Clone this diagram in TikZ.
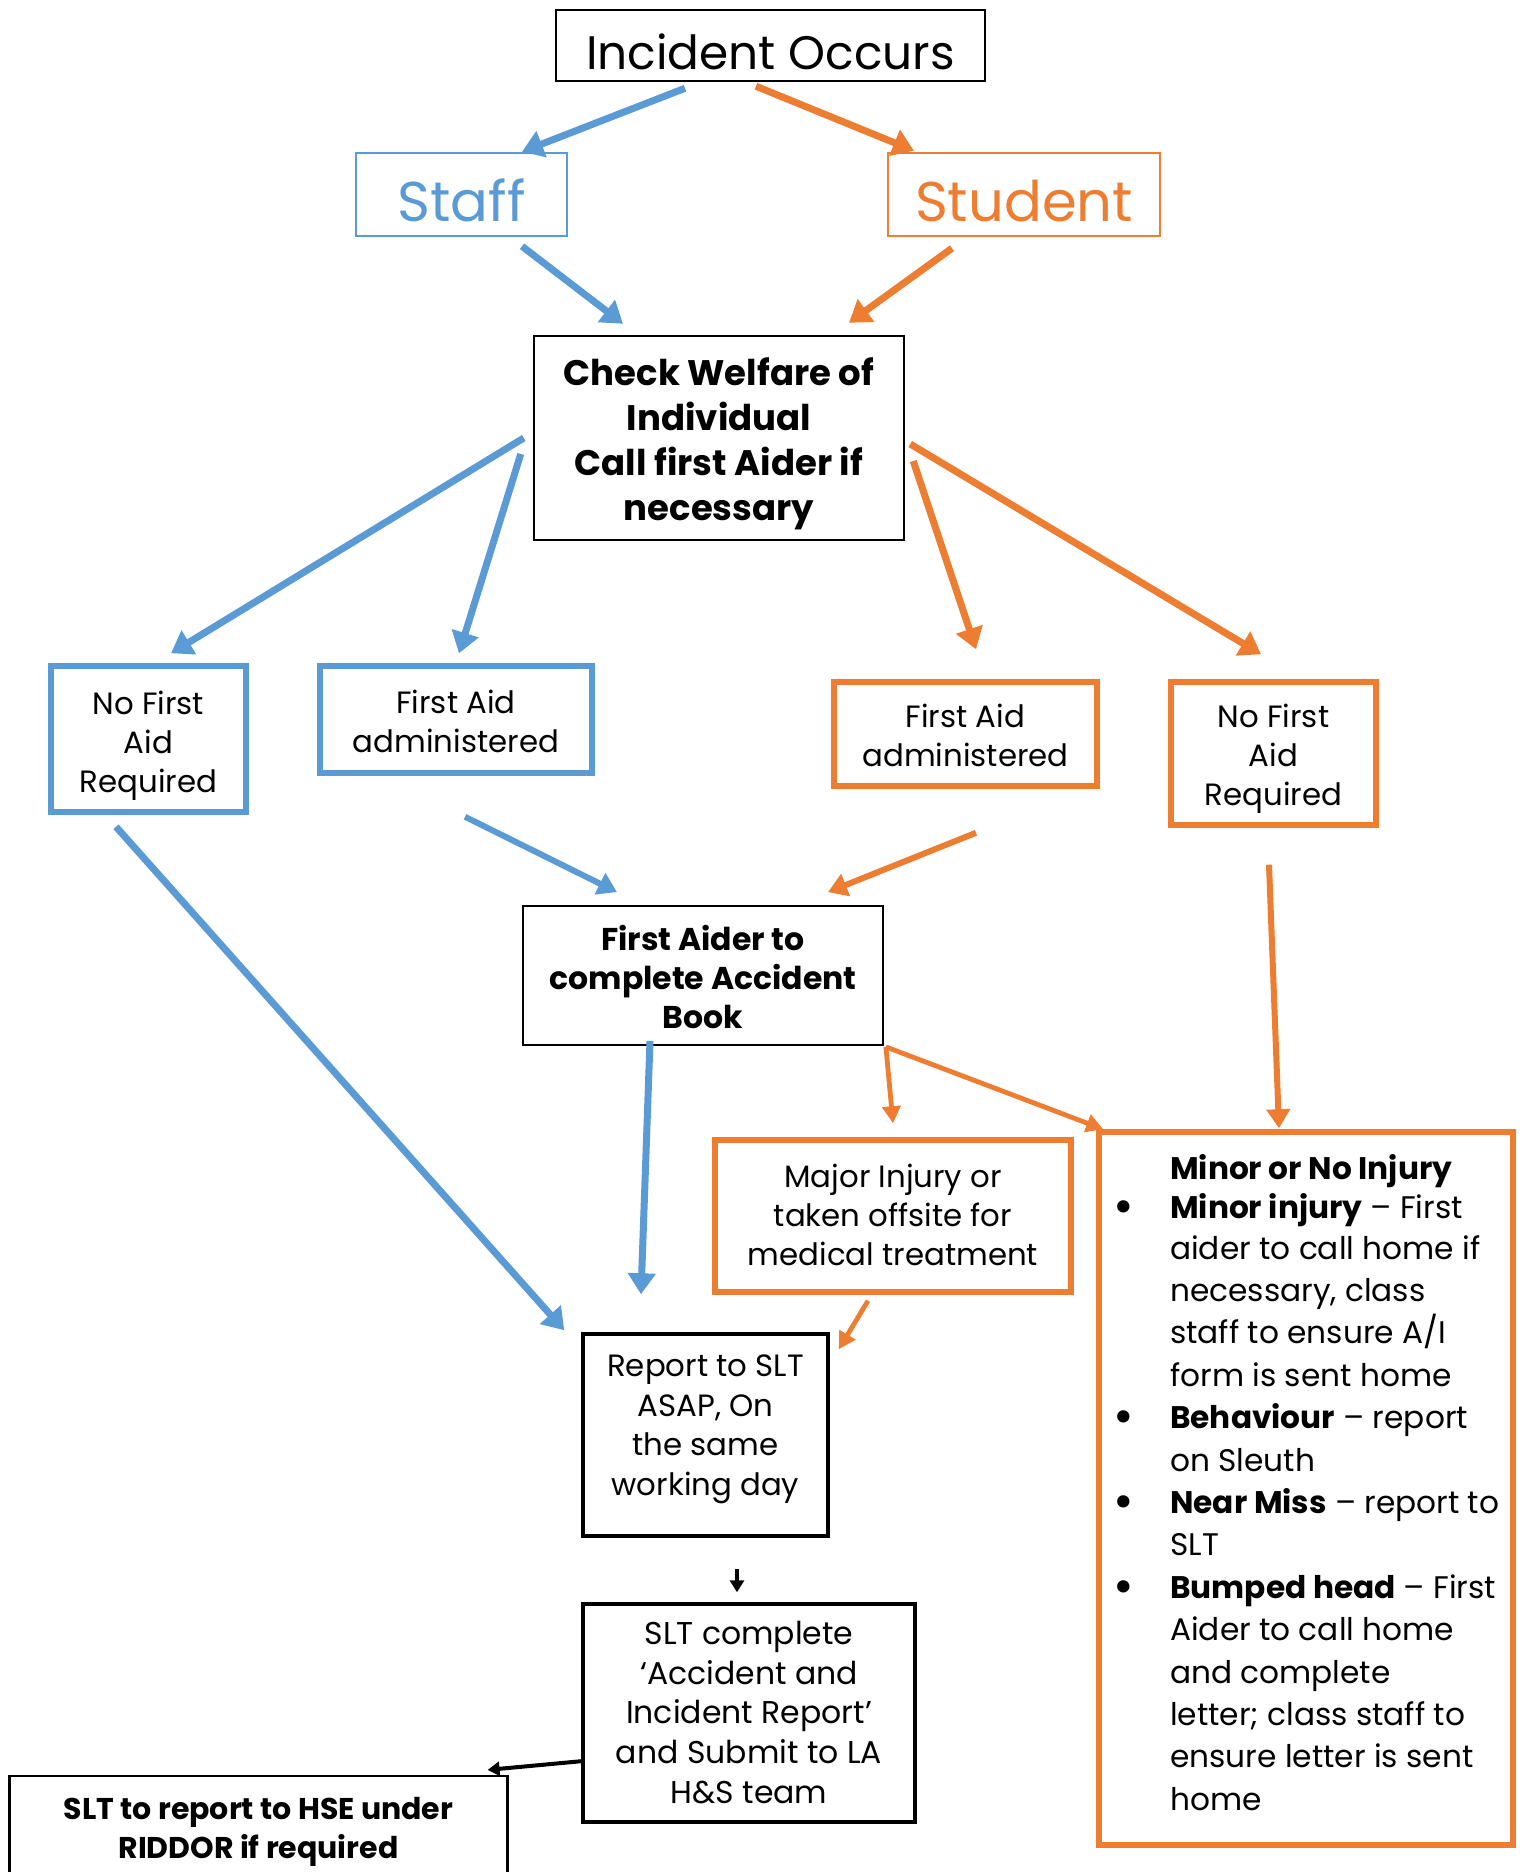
\documentclass[tikz,border=0pt]{standalone}
\usepackage{fontspec}
\setmainfont{Poppins}
\usetikzlibrary{arrows.meta,calc}
\definecolor{cblue}{HTML}{5B9BD5}
\definecolor{corange}{HTML}{ED7D31}
\newcommand\bul{\llap{\raisebox{-5pt}{\scalebox{1.6}{\textbullet}}\hspace{36pt}}}
\newcommand\tx[2]{\raisebox{#1}[\height][\depth]{\begin{tabular}{@{}c@{}}#2\end{tabular}}}
\begin{document}
\begin{tikzpicture}[x=1pt,y=-1pt,
  box/.style={draw, rectangle, inner sep=0pt},
  regtxt/.style={font={\fontsize{30.8}{39}\selectfont}},
  boldtxt/.style={font={\fontsize{30.8}{39}\selectfont\bfseries}},
  bthick/.style={line width=5.5pt, draw=cblue},
  othick/.style={line width=5.5pt, draw=corange},
  barr/.style={draw=cblue, line width=7pt, -{Triangle[length=21pt,width=27pt]}},
  oarr/.style={draw=corange, line width=7pt, -{Triangle[length=21pt,width=27pt]}},
  barrm/.style={draw=cblue, line width=6pt, -{Triangle[length=19pt,width=23pt]}},
  oarrm/.style={draw=corange, line width=6pt, -{Triangle[length=19pt,width=23pt]}},
  oarrs/.style={draw=corange, line width=4.8pt, -{Triangle[length=17pt,width=18pt]}},
  karr/.style={draw=black, line width=4pt, -{Triangle[length=12pt,width=14pt]}}
]
\useasboundingbox[fill=white] (0,0) rectangle (1525,1872);

% nodes
\node[box, line width=2.5pt, minimum width=429pt, minimum height=71pt,
  font={\fontsize{47}{50}\selectfont}] (inc) at (770.5,45.5) {\tx{-14pt}{Incident Occurs}};
\node[box, line width=2.5pt, draw=cblue, text=cblue, minimum width=211pt, minimum height=83pt,
  font={\fontsize{56}{60}\selectfont}] (staff) at (461.5,194.5) {\tx{-15pt}{Staff}};
\node[box, line width=2.5pt, draw=corange, text=corange, minimum width=272pt, minimum height=83pt,
  font={\fontsize{56}{60}\selectfont}] (student) at (1024,194.5) {\tx{-15pt}{Student}};
\node[box, line width=2.5pt, minimum width=370pt, minimum height=204pt,
  font={\fontsize{35.5}{45}\selectfont\bfseries}] (check) at (719,438)
  {\tx{-5.5pt}{Check Welfare of\\Individual\\Call first Aider if\\necessary}};
\node[box, bthick, regtxt, minimum width=195pt, minimum height=146pt] (bnofa) at (148.5,739)
  {\tx{-6.5pt}{No First\\Aid\\Required}};
\node[box, bthick, regtxt, minimum width=272pt, minimum height=107pt] (bfa) at (456,719.5)
  {\tx{-6pt}{First Aid\\administered}};
\node[box, othick, regtxt, minimum width=263pt, minimum height=104pt] (ofa) at (965.5,734)
  {\tx{-5pt}{First Aid\\administered}};
\node[box, othick, regtxt, minimum width=205pt, minimum height=143pt] (onofa) at (1273.5,753.5)
  {\tx{-5pt}{No First\\Aid\\Required}};
\node[box, line width=1.8pt, font={\fontsize{31.5}{39}\selectfont\bfseries}, minimum width=360pt, minimum height=139pt] (fab) at (703,975.5)
  {\tx{-6.5pt}{First Aider to\\complete Accident\\Book}};
\node[box, othick, regtxt, minimum width=356pt, minimum height=152pt] (major) at (893,1216)
  {\tx{-2.5pt}{Major Injury or\\taken offsite for\\medical treatment}};
\node[box, othick, minimum width=414pt, minimum height=713pt] (minor) at (1306,1488.5) {};
\node[anchor=north west, inner sep=0pt, align=left, font={\fontsize{31.2}{42.4}\selectfont}] (minortext) at (1170,1154)
  {\textbf{Minor or No Injury}\\[-3pt]
  \bul\textbf{Minor injury} – First\\[-2pt]
  aider to call home if\\
  necessary, class\\
  staff to ensure A/I\\
  form is sent home\\
  \bul\textbf{Behaviour} – report\\
  on Sleuth\\
  \bul\textbf{Near Miss} – report to\\
  SLT\\
  \bul\textbf{Bumped head} – First\\
  Aider to call home\\
  and complete\\
  letter; class staff to\\
  ensure letter is sent\\
  home};
\node[box, line width=3.5pt, font={\fontsize{30.8}{39.5}\selectfont}, minimum width=245pt, minimum height=202pt] (report) at (705.5,1435)
  {\tx{7pt}{Report to SLT\\ASAP, On\\the same\\working day}};
\node[box, line width=3.5pt, font={\fontsize{31.5}{39.6}\selectfont}, minimum width=332pt, minimum height=218pt] (sltc) at (749,1713)
  {\tx{-3pt}{SLT complete\\‘Accident and\\Incident Report’\\and Submit to LA\\H\&S team}};
\node[box, line width=2.2pt, font={\fontsize{30}{39}\selectfont\bfseries}, minimum width=498pt, minimum height=104pt] (hse) at (258.5,1828)
  {\tx{-3pt}{SLT to report to HSE under\\RIDDOR if required}};

% connectors
\draw[barr] ($(inc.south)+(-85.5,6)$) -- ($(staff.north)+(60.5,0)$);
\draw[oarr] ($(inc.south)+(-14.5,4)$) -- ($(student.north)+(-110,-1)$);
\draw[barr] ($(staff.south)+(60.5,9)$) -- ($(check.north)+(-96,-11)$);
\draw[oarr] ($(student.south)+(-72,11)$) -- ($(check.north)+(130,-12)$);
\draw[barr] ($(check.west)+(-9,0)$) -- ($(bnofa.north)+(22.5,-10)$);
\draw[barr] ($(check.west)+(-12,16)$) -- ($(bfa.north)+(3,-10)$);
\draw[oarr] ($(check.east)+(8,23)$) -- ($(ofa.north)+(10.5,-30)$);
\draw[oarr] ($(check.east)+(5,6)$) -- ($(onofa.north)+(-12.5,-25)$);
\draw[barrm] ($(bfa.south)+(9,41)$) -- ($(fab.north)+(-86,-13)$);
\draw[oarrm] ($(ofa.south)+(10.5,44)$) -- ($(fab.north)+(125,-13)$);
\draw[barr] ($(bnofa.south)+(-32.5,12)$) -- ($(report.north west)+(-17,-2)$);
\draw[barr] ($(fab.south)+(-53,-5)$) -- ($(report.north)+(-64.5,-38)$);
\draw[oarrs] ($(fab.south east)+(2,1)$) -- ($(major.north)+(0,-14)$);
\draw[oarrs] ($(fab.south east)+(2,1)$) -- ($(minor.north west)+(7,0)$);
\draw[oarrm] ($(onofa.south)+(-4.5,37)$) -- ($(minor.north)+(-27,-1)$);
\draw[oarrs] ($(major.south)+(-25,6)$) -- ($(report.north east)+(9,17)$);
\draw[karr] ($(report.south)+(31.5,31)$) -- ($(sltc.north)+(-12,-10)$);
\draw[karr] ($(sltc.west)+(2,48)$) -- ($(hse.north east)+(-21,-5)$);
\end{tikzpicture}
\end{document}
